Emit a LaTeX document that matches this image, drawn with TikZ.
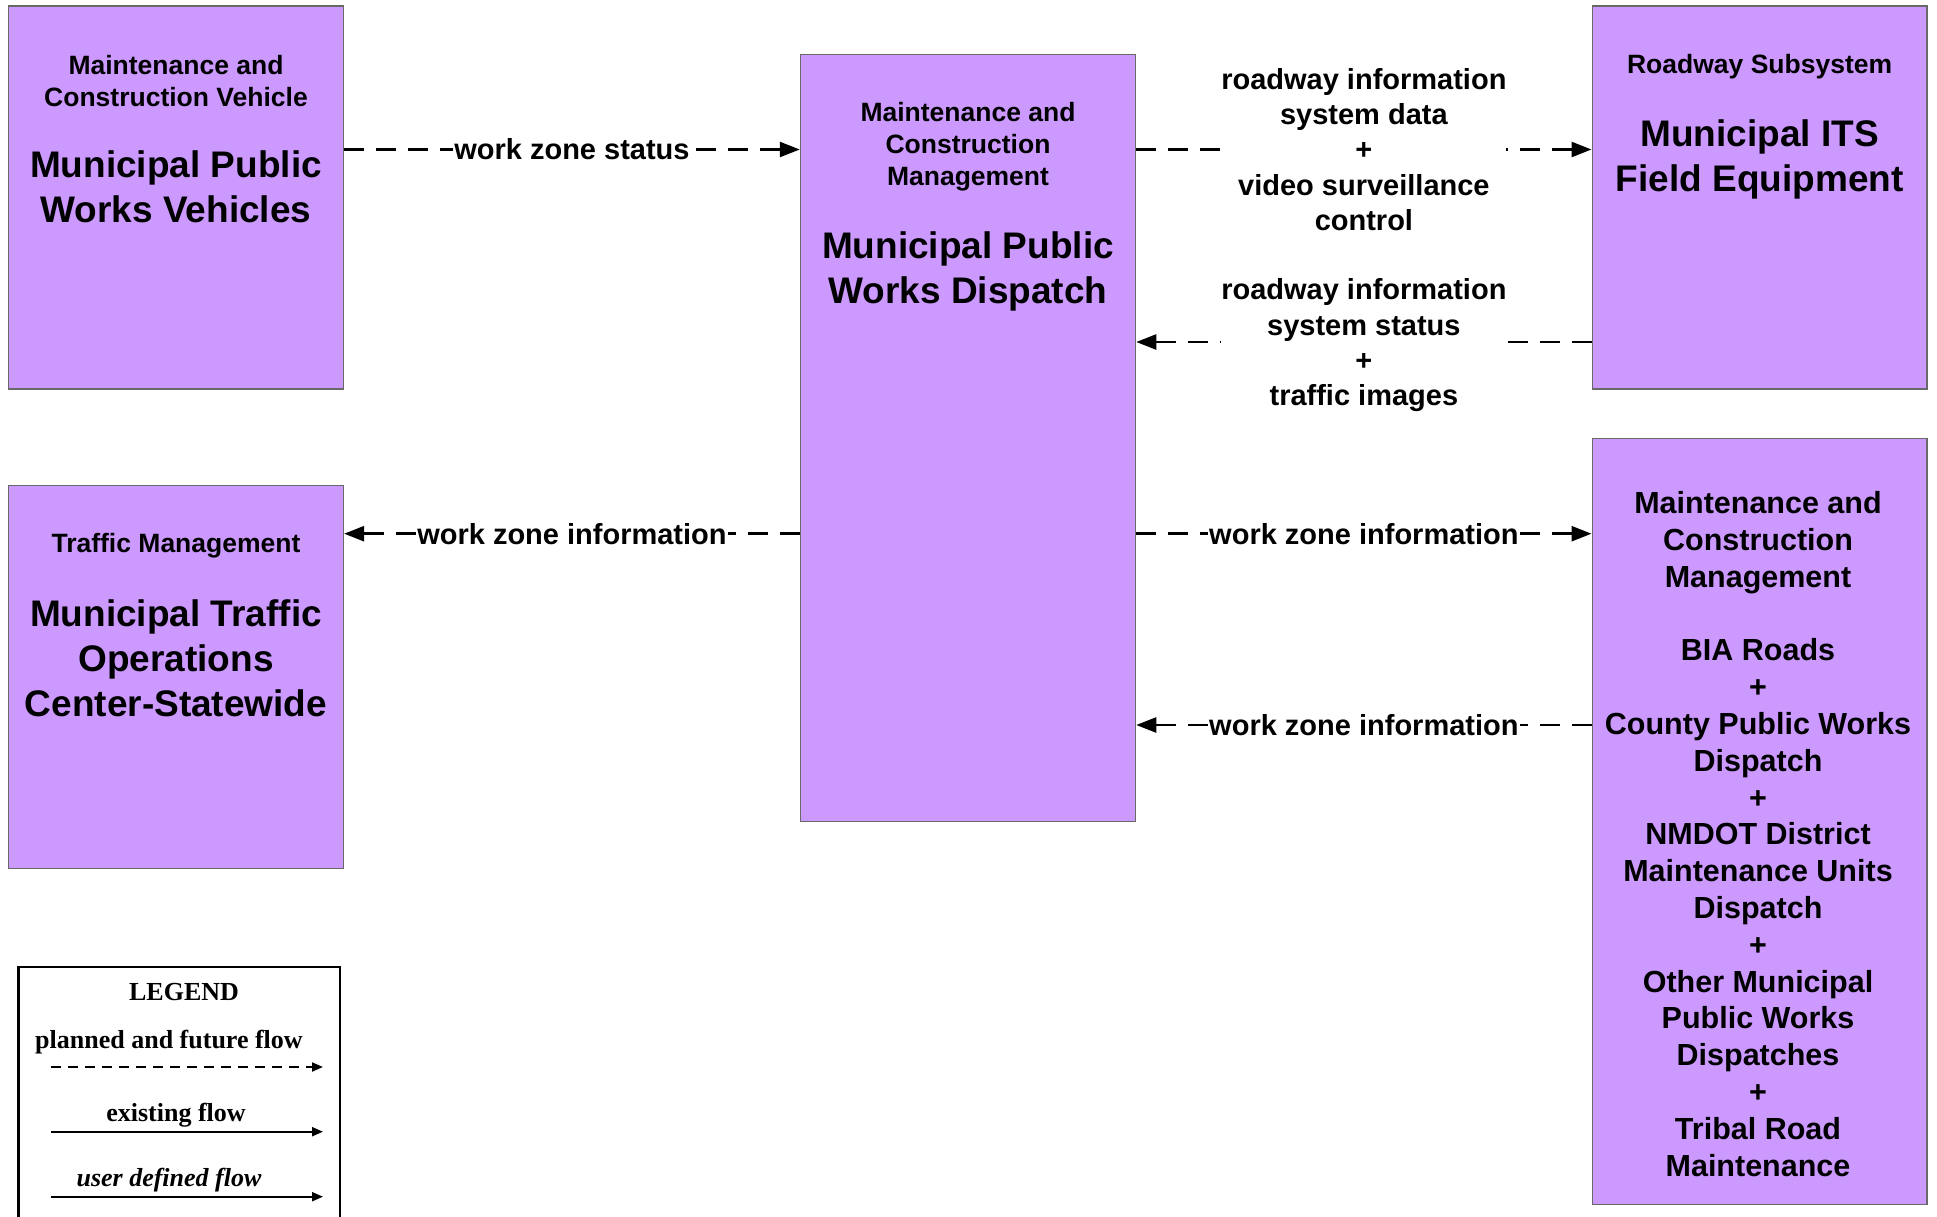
\documentclass[tikz,border=0pt]{standalone}
\usepackage{fontspec}
\setmainfont{Liberation Sans}
\newfontfamily\legfont{Liberation Serif}
\usetikzlibrary{arrows.meta}
\definecolor{boxfill}{RGB}{204,153,255}
\definecolor{boxline}{RGB}{105,105,105}
\begin{document}
\begin{tikzpicture}[x=1pt,y=-1pt,
  box/.style={draw=boxline, line width=1.5pt, fill=boxfill, rectangle, inner sep=0pt},
  small/.style={font=\bfseries\fontsize{26.5pt}{32pt}\selectfont, align=center, inner sep=0pt},
  big/.style={font=\bfseries\fontsize{37pt}{45pt}\selectfont, align=center, inner sep=0pt},
  mid/.style={font=\bfseries\fontsize{30.5pt}{36.8pt}\selectfont, align=center, inner sep=0pt},
  flow/.style={line width=2.5pt, dash pattern=on 20pt off 12pt, -{Triangle[length=20pt,width=15pt]}},
  flowlabel/.style={font=\bfseries\fontsize{29pt}{35.3pt}\selectfont, align=center, fill=white, inner xsep=1.5pt, inner ysep=1pt},
  legtext/.style={font=\legfont\bfseries\fontsize{26pt}{30pt}\selectfont, inner sep=0pt},
  legflow/.style={line width=2pt, -{Triangle[length=11pt,width=9pt]}}
]
\clip (0,0) rectangle (1937,1217);
\fill[white] (0,0) rectangle (1937,1217);

% boxes
\node[box, minimum width=334.8pt, minimum height=382.8pt] (A) at (176,197.6) {};
\node[box, minimum width=334.8pt, minimum height=382.9pt] (B) at (176,677) {};
\node[box, minimum width=335pt, minimum height=767.1pt] (C) at (968,438) {};
\node[box, minimum width=334.7pt, minimum height=382.8pt] (D) at (1759.6,197.6) {};
\node[box, minimum width=334.7pt, minimum height=765.9pt] (E) at (1759.6,821.5) {};

% box texts
\node[small] (At1) at (176,81) {Maintenance and\\Construction Vehicle};
\node[big] (At2) at (176,187) {Municipal Public\\Works Vehicles};
\node[small] (Bt1) at (176,546) {Traffic Management};
\node[big] (Bt2) at (176,658.5) {Municipal Traffic\\Operations\\Center-Statewide};
\node[small] (Ct1) at (968,147) {Maintenance and\\Construction\\Management};
\node[big] (Ct2) at (968,271) {Municipal Public\\Works Dispatch};
\node[small] (Dt1) at (1759.6,67) {Roadway Subsystem};
\node[big] (Dt2) at (1759.6,159) {Municipal ITS\\Field Equipment};
\node[mid] (Et) at (1758,834) {Maintenance and\\Construction\\Management\\[36.8pt]BIA Roads\\+\\County Public Works\\Dispatch\\+\\NMDOT District\\Maintenance Units\\Dispatch\\+\\Other Municipal\\Public Works\\Dispatches\\+\\Tribal Road\\Maintenance};

% flow rows
\coordinate (r1) at (0,149.5);
\coordinate (r2) at (0,342);
\coordinate (r3) at (0,533.7);
\coordinate (r4) at (0,725);

\draw[flow] (A.east |- r1) -- node[flowlabel] (L1) {work zone status} (C.west |- r1);
\draw[flow] (C.east |- r1) -- node[flowlabel, inner xsep=0pt] (L2) {roadway information\\system data\\+\\video surveillance\\control} (D.west |- r1);
\draw[flow] (D.west |- r2) -- node[flowlabel, inner xsep=0pt, yshift=-3.5pt] (L3) {roadway information\\system status\\+\\traffic images} (C.east |- r2);
\draw[flow] (C.west |- r3) -- node[flowlabel] (L4) {work zone information} (B.east |- r3);
\draw[flow] (C.east |- r3) -- node[flowlabel] (L5) {work zone information} (E.west |- r3);
\draw[flow] (E.west |- r4) -- node[flowlabel] (L6) {work zone information} (C.east |- r4);

% legend
\node[draw=black, line width=2.7pt, fill=white, minimum width=321.5pt, minimum height=286pt, inner sep=0pt] (leg) at (179.3,1110) {};
\node[legtext] (legT) at (184,992) {LEGEND};
\node[legtext] (legP) at (169,1042) {planned and future flow};
\node[legtext] (legE) at (176,1115) {existing flow};
\node[legtext, font=\legfont\bfseries\itshape\fontsize{26pt}{30pt}\selectfont] (legU) at (169,1180) {user defined flow};
\coordinate (p1) at (51,1067);
\coordinate (p2) at (323,1067);
\coordinate (e1) at (51,1131.7);
\coordinate (e2) at (323,1131.7);
\coordinate (u1) at (51,1196.7);
\coordinate (u2) at (323,1196.7);
\draw[legflow, dash pattern=on 10pt off 7pt] (p1) -- (p2);
\draw[legflow] (e1) -- (e2);
\draw[legflow] (u1) -- (u2);
\end{tikzpicture}
\end{document}
